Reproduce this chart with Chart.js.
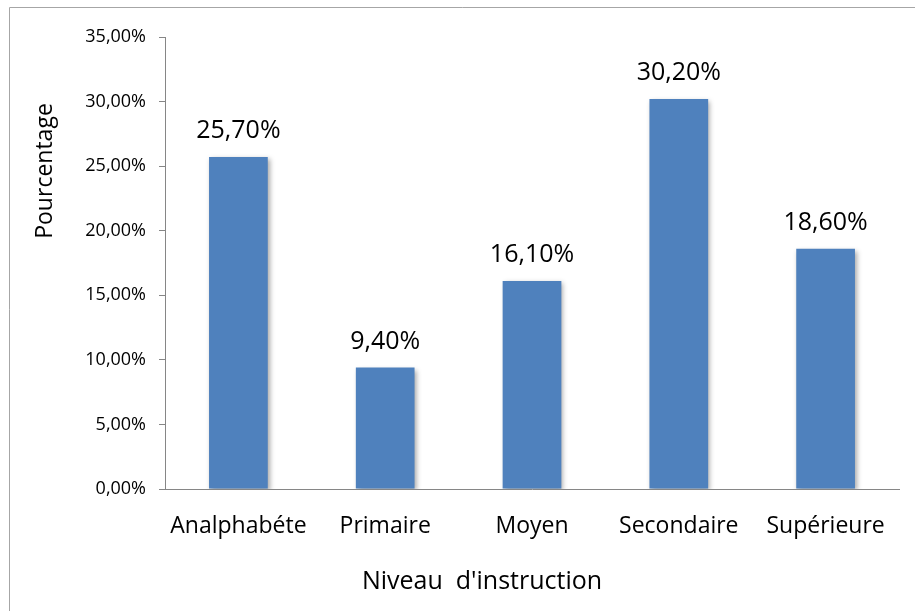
<!DOCTYPE html>
<html>
<head>
<meta charset="utf-8">
<script src="https://cdn.jsdelivr.net/npm/chart.js@4/dist/chart.umd.min.js"></script>
<style>
  html, body { margin: 0; padding: 0; background: #fff; }
  #wrap { width: 915px; height: 611px; position: relative; }
</style>
</head>
<body>
<div id="wrap"><canvas id="chart" width="915" height="611"></canvas></div>
<script>
// ---------------- DATA ----------------
const categories = ["Analphabéte", "Primaire", "Moyen", "Secondaire", "Supérieure"];
const percentages = [25.7, 9.4, 16.1, 30.2, 18.6];
const yTicks = [0, 5, 10, 15, 20, 25, 30, 35];

const yTitle = "Pourcentage";
const xTitle = "Niveau  d'instruction";

const FONT = "'Open Sans', 'DejaVu Sans', sans-serif";

function pct(v) {
    return v.toFixed(2).replace(".", ",") + "%";
}

// ---------------- PLUGINS ----------------
// outer frame + axis titles
const framePlugin = {
    id: "frame",
    beforeDraw(chart) {
        const ctx = chart.ctx;
        ctx.save();
        ctx.strokeStyle = "#a6a6a6";
        ctx.lineWidth = 1;
        ctx.beginPath();
        ctx.moveTo(9.5, 620);
        ctx.lineTo(9.5, 7.5);
        ctx.lineTo(930, 7.5);
        ctx.stroke();
        ctx.restore();
    },
    afterDraw(chart) {
        const ctx = chart.ctx;
        ctx.save();
        ctx.fillStyle = "#000";
        ctx.textAlign = "center";
        ctx.textBaseline = "middle";

        ctx.font = "23px " + FONT;
        ctx.translate(45, 171);
        ctx.rotate(-Math.PI / 2);
        ctx.fillText(yTitle, 0, 0);
        ctx.setTransform(1, 0, 0, 1, 0, 0);

        ctx.font = "25px " + FONT;
        ctx.fillText(xTitle, 482, 582);
        ctx.restore();
    }
};

// soft shadow on the bars
const shadowPlugin = {
    id: "barShadow",
    beforeDatasetDraw(chart) {
        const ctx = chart.ctx;
        ctx.save();
        ctx.shadowColor = "rgba(0,0,0,0.35)";
        ctx.shadowBlur = 5;
        ctx.shadowOffsetX = 2;
        ctx.shadowOffsetY = 2;
    },
    afterDatasetDraw(chart) {
        chart.ctx.restore();
    }
};

// value labels above each bar
const labelPlugin = {
    id: "valueLabels",
    afterDatasetsDraw(chart) {
        const ctx = chart.ctx;
        const meta = chart.getDatasetMeta(0);
        ctx.save();
        ctx.font = "25px " + FONT;
        ctx.fillStyle = "#000";
        ctx.textAlign = "center";
        ctx.textBaseline = "alphabetic";
        meta.data.forEach((bar, i) => {
            ctx.fillText(pct(percentages[i]), bar.x, bar.y - 19);
        });
        ctx.restore();
    }
};

// ---------------- CHART ----------------
new Chart(document.getElementById("chart"), {
    type: "bar",
    data: {
        labels: categories,
        datasets: [{
            data: percentages,
            backgroundColor: "#4f81bd",
            borderWidth: 0,
            barPercentage: 0.4,
            categoryPercentage: 1.0
        }]
    },
    options: {
        responsive: false,
        animation: false,
        layout: {
            padding: { top: 37, right: 16, bottom: 0, left: 0 }
        },
        plugins: {
            legend: { display: false },
            tooltip: { enabled: false }
        },
        scales: {
            x: {
                grid: { display: false },
                border: { display: true, color: "#868686", width: 1 },
                ticks: {
                    color: "#000",
                    font: { family: FONT, size: 23 },
                    padding: 16,
                    maxRotation: 0,
                    autoSkip: false
                },
                afterFit(scale) { scale.height = 122; }
            },
            y: {
                min: 0,
                max: 35,
                afterBuildTicks(scale) {
                    scale.ticks = yTicks.map(v => ({ value: v }));
                },
                grid: {
                    drawOnChartArea: false,
                    drawTicks: true,
                    tickLength: 6,
                    color: "#868686"
                },
                border: { display: true, color: "#868686", width: 1 },
                ticks: {
                    color: "#000",
                    font: { family: FONT, size: 18 },
                    padding: 13,
                    callback: v => pct(v)
                },
                afterFit(scale) { scale.width = 165; }
            }
        }
    },
    plugins: [framePlugin, shadowPlugin, labelPlugin]
});
</script>
</body>
</html>
